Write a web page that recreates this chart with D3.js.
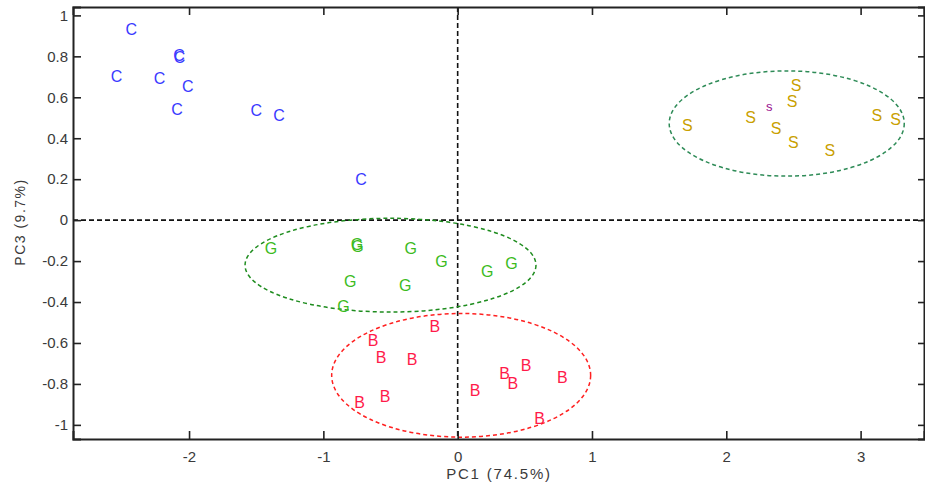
<!DOCTYPE html>
<html>
<head>
<meta charset="utf-8">
<script src="https://cdn.jsdelivr.net/npm/d3@7"></script>
<style>
html,body{margin:0;padding:0;background:#fff;}
svg{display:block;font-family:"Liberation Sans",Arial,sans-serif;}
</style>
</head>
<body>
<svg id="chart" width="925" height="488"></svg>
<script>
// ---- data ----
const xTicks = [-2, -1, 0, 1, 2, 3];
const yTicks = [1, 0.8, 0.6, 0.4, 0.2, 0, -0.2, -0.4, -0.6, -0.8, -1];
const xLabel = "PC1 (74.5%)";
const yLabel = "PC3 (9.7%)";

const groupC_pc1 = [-2.43, -2.074, -2.070, -2.54, -2.22, -2.01, -2.09, -1.50, -1.33, -0.72];
const groupC_pc3 = [0.93, 0.806, 0.794, 0.70, 0.69, 0.655, 0.54, 0.535, 0.51, 0.20];

const groupG_pc1 = [-1.39, -0.750, -0.746, -0.35, -0.12, -0.80, -0.39, -0.85, 0.22, 0.40];
const groupG_pc3 = [-0.14, -0.119, -0.131, -0.14, -0.20, -0.30, -0.32, -0.42, -0.25, -0.21];

const groupB_pc1 = [-0.17, -0.63, -0.57, -0.34, -0.54, -0.73, 0.13, 0.35, 0.41, 0.51, 0.78, 0.61];
const groupB_pc3 = [-0.52, -0.59, -0.67, -0.68, -0.86, -0.89, -0.83, -0.75, -0.80, -0.71, -0.77, -0.97];

const groupS_pc1 = [2.52, 2.49, 2.18, 1.71, 2.37, 2.50, 2.77, 3.12, 3.26];
const groupS_pc3 = [0.66, 0.58, 0.50, 0.46, 0.45, 0.38, 0.34, 0.51, 0.49];
const meanS_pc1 = [2.32];
const meanS_pc3 = [0.555];

// ellipses: center x, center y, radius x, radius y (data units)
const ellipseNames = ["G", "B", "S"];
const ellipseCx = [-0.50, 0.026, 2.45];
const ellipseCy = [-0.22, -0.758, 0.472];
const ellipseRx = [1.083, 0.964, 0.875];
const ellipseRy = [0.229, 0.302, 0.257];

// ---- layout ----
const svg = d3.select("#chart");
const L = 73, R = 924, T = 7, B = 439;
const x = d3.scaleLinear().domain([-2.864, 3.472]).range([L, R]);
const y = d3.scaleLinear().domain([1.041, -1.069]).range([T, B]);

const tickColor = "#222";
const labelColor = "#3a3a3a";
const fmt = d => String(d).replace("−", "-");

// zero lines
svg.append("line").attr("x1", L).attr("x2", R).attr("y1", y(0)).attr("y2", y(0))
  .attr("stroke", "#111").attr("stroke-width", 1.6).attr("stroke-dasharray", "5,3");
svg.append("line").attr("x1", x(0)).attr("x2", x(0)).attr("y1", T).attr("y2", B)
  .attr("stroke", "#111").attr("stroke-width", 1.6).attr("stroke-dasharray", "5,3");

// ellipses
const ellColors = {G: "#1e8c1e", B: "#ff2020", S: "#2e8b57"};
ellipseNames.forEach((n, i) => {
  svg.append("ellipse")
    .attr("cx", x(ellipseCx[i])).attr("cy", y(ellipseCy[i]))
    .attr("rx", x(ellipseRx[i]) - x(0)).attr("ry", y(0) - y(ellipseRy[i]))
    .attr("fill", "none").attr("stroke", ellColors[n]).attr("stroke-width", 1.5)
    .attr("stroke-dasharray", "4,3");
});

// axes (box style, ticks inward)
const axB = d3.axisBottom(x).tickValues(xTicks).tickSize(-8).tickPadding(12).tickFormat(fmt);
const axT = d3.axisTop(x).tickValues(xTicks).tickSize(-8).tickFormat("");
const axLft = d3.axisLeft(y).tickValues(yTicks).tickSize(-8).tickPadding(5).tickFormat(fmt);
const axRgt = d3.axisRight(y).tickValues(yTicks).tickSize(-6).tickFormat("");

function styleAxis(g) {
  g.select(".domain").attr("stroke", tickColor).attr("stroke-width", 2);
  g.selectAll(".tick line").attr("stroke", tickColor).attr("stroke-width", 1.6);
  g.selectAll(".tick text").attr("fill", labelColor).attr("font-size", 15)
    .attr("font-family", "Liberation Sans, Arial, sans-serif");
}
svg.append("g").attr("transform", `translate(0,${B})`).call(axB).call(styleAxis);
svg.append("g").attr("transform", `translate(0,${T})`).call(axT).call(styleAxis);
svg.append("g").attr("transform", `translate(${L},0)`).call(axLft).call(styleAxis);
svg.append("g").attr("transform", `translate(${R},0)`).call(axRgt).call(styleAxis);

// points as letters
function drawLetters(xs, ys, letter, color, size) {
  svg.append("g").selectAll("text").data(xs.map((v, i) => [v, ys[i]])).join("text")
    .attr("x", d => x(d[0])).attr("y", d => y(d[1]))
    .attr("text-anchor", "middle").attr("dominant-baseline", "central")
    .attr("font-size", size).attr("fill", color)
    .text(letter);
}
drawLetters(groupC_pc1, groupC_pc3, "C", "#3a3aff", 16);
drawLetters(groupG_pc1, groupG_pc3, "G", "#3cbb1e", 16);
drawLetters(groupB_pc1, groupB_pc3, "B", "#ff1a4a", 16);
drawLetters(groupS_pc1, groupS_pc3, "S", "#c9a000", 16);
drawLetters(meanS_pc1, meanS_pc3, "s", "#9a1090", 13);

// axis titles
svg.append("text").attr("x", 499).attr("y", 479).attr("text-anchor", "middle")
  .attr("font-size", 15).attr("letter-spacing", 1.8).attr("fill", labelColor).text(xLabel);
svg.append("text").attr("transform", `translate(25,222) rotate(-90)`).attr("text-anchor", "middle")
  .attr("font-size", 14).attr("letter-spacing", 1.5).attr("fill", labelColor).text(yLabel);
</script>
</body>
</html>
